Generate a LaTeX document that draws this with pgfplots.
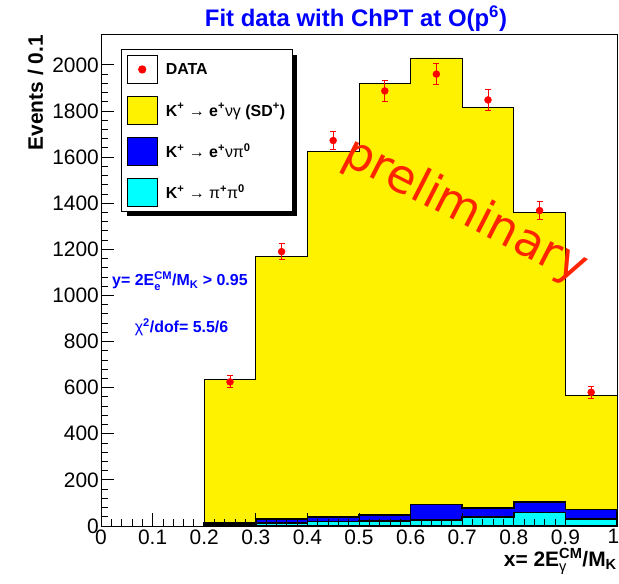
\documentclass[border=0pt]{standalone}
\usepackage{fontspec}
\setmainfont{Liberation Sans}
\newfontfamily\prelimfont{DejaVu Sans}
\usepackage{amsmath}
\usepackage{pgfplots}
\pgfplotsset{compat=1.18}
\usetikzlibrary{shadows}
\definecolor{rootblue}{RGB}{0,0,255}
\definecolor{rootcyan}{RGB}{0,255,255}
\definecolor{prelim}{RGB}{255,36,0}
\makeatletter
\tikzset{nopre/.code={\def\tikz@preactions{}}}
\makeatother

\begin{document}
\begin{tikzpicture}
\begin{axis}[
  at={(0,0)}, anchor=south west,
  scale only axis, width=516bp, height=492bp,
  xmin=0, xmax=1, ymin=0, ymax=2134,
  xtick={0,0.1,0.2,0.3,0.4,0.5,0.6,0.7,0.8,0.9},
  extra x ticks={1},
  extra x tick style={xticklabel style={xshift=-3.5bp}},
  ytick={0,200,400,600,800,1000,1200,1400,1600,1800,2000},
  minor x tick num=4, minor y tick num=4,
  tick align=inside, tick pos=left,
  major tick length=13bp, minor tick length=7bp,
  axis on top,
  /pgf/number format/assume math mode=true,
  /pgf/number format/1000 sep={},
  scaled ticks=false,
  ticklabel style={font=\fontsize{21}{24}\selectfont},
  yticklabel style={inner sep=2bp},
  axis line style={line width=0.8bp},
  every tick/.style={black, line width=0.8bp},
  legend cell align=left,
  legend style={at={(0.0388,0.969)}, anchor=north west, draw=black, line width=1.2bp,
    fill=white, inner sep=5bp, row sep=12bp, column sep=6bp,
    font=\bfseries\fontsize{16}{19}\selectfont,
    drop shadow={shadow xshift=5bp, shadow yshift=-5bp, fill=black, opacity=1}},
]
\addlegendimage{legend image code/.code={\path[nopre] (0bp,-14bp) rectangle (30bp,14bp); \fill[nopre, red] (15bp,0bp) circle (3.5bp);}}
\addlegendentry{DATA}
\addlegendimage{legend image code/.code={\draw[nopre, fill=yellow, draw=black, line width=0.8bp] (0bp,-14bp) rectangle (30bp,14bp);}}
\addlegendentry{K\textsuperscript{+} {\mdseries →} e\textsuperscript{+}{\mdseries νγ} (SD\textsuperscript{+})}
\addlegendimage{legend image code/.code={\draw[nopre, fill=rootblue, draw=black, line width=0.8bp] (0bp,-14bp) rectangle (30bp,14bp);}}
\addlegendentry{K\textsuperscript{+} {\mdseries →} e\textsuperscript{+}{\mdseries νπ}\textsuperscript{0}}
\addlegendimage{legend image code/.code={\draw[nopre, fill=rootcyan, draw=black, line width=0.8bp] (0bp,-14bp) rectangle (30bp,14bp);}}
\addlegendentry{K\textsuperscript{+} {\mdseries →} {\mdseries π}\textsuperscript{+}{\mdseries π}\textsuperscript{0}}

\addplot[const plot, fill=yellow, draw=black, line width=0.8bp, forget plot] coordinates {
  (0.2,636) (0.3,1168) (0.4,1624) (0.5,1918) (0.6,2030) (0.7,1815) (0.8,1361) (0.9,568) (1.0,568)} \closedcycle;
\addplot[const plot, fill=rootblue, draw=black, line width=1.6bp, forget plot] coordinates {
  (0.2,12) (0.3,30) (0.4,39) (0.5,48) (0.6,94) (0.7,77) (0.8,103) (0.9,72) (1.0,72)} \closedcycle;
\addplot[const plot, fill=rootcyan, draw=black, line width=1.6bp, forget plot] coordinates {
  (0.2,4) (0.3,12) (0.4,19) (0.5,22) (0.6,26) (0.7,38) (0.8,58) (0.9,30) (1.0,30)} \closedcycle;

\addplot[only marks, mark=*, mark size=3.5bp, red, forget plot,
  error bars/.cd, y dir=both, y explicit,
  error bar style={line width=1bp, red},
  error mark options={rotate=90, red, line width=1bp, mark size=3bp}]
  table[x=x, y=y, y error=e] {
  x     y     e
  0.25  625   26
  0.35  1190  36
  0.45  1672  41
  0.55  1887  45
  0.65  1960  46
  0.75  1848  45
  0.85  1368  38
  0.95  580   25
};

\node[rotate=-27, text=prelim, font=\prelimfont\fontsize{47}{50}\selectfont] at (axis cs:0.705,1365) {preliminary};
\node[anchor=base, text=rootblue, inner sep=0, font=\bfseries\fontsize{16}{19}\selectfont] at (axis cs:0.153,1041) {y= 2E$^{\text{CM}}_{\text{e}}$/M$_{\text{K}}$ > 0.95};
\node[anchor=base, text=rootblue, inner sep=0, font=\bfseries\fontsize{16}{19}\selectfont] at (axis cs:0.156,839) {{\mdseries χ}\textsuperscript{2}/dof= 5.5/6};
\end{axis}
\node[anchor=base, inner sep=0, text=rootblue, font=\bfseries\fontsize{24}{28}\selectfont] at (255bp,499bp) {Fit data with ChPT at O(p\textsuperscript{6})};
\node[rotate=90, anchor=base east, inner sep=0, font=\bfseries\fontsize{21}{25}\selectfont] at (-58bp,491bp) {Events / 0.1};
\node[anchor=base east, inner sep=0, font=\bfseries\fontsize{21}{25}\selectfont] at (516bp,-40bp) {x= 2E$^{\text{CM}}_{\text{\mdseries γ}}$/M$_{\text{K}}$};
\pgfresetboundingbox
\path[use as bounding box] (-101bp,-58bp) rectangle (518bp,526bp);
\end{tikzpicture}
\end{document}
